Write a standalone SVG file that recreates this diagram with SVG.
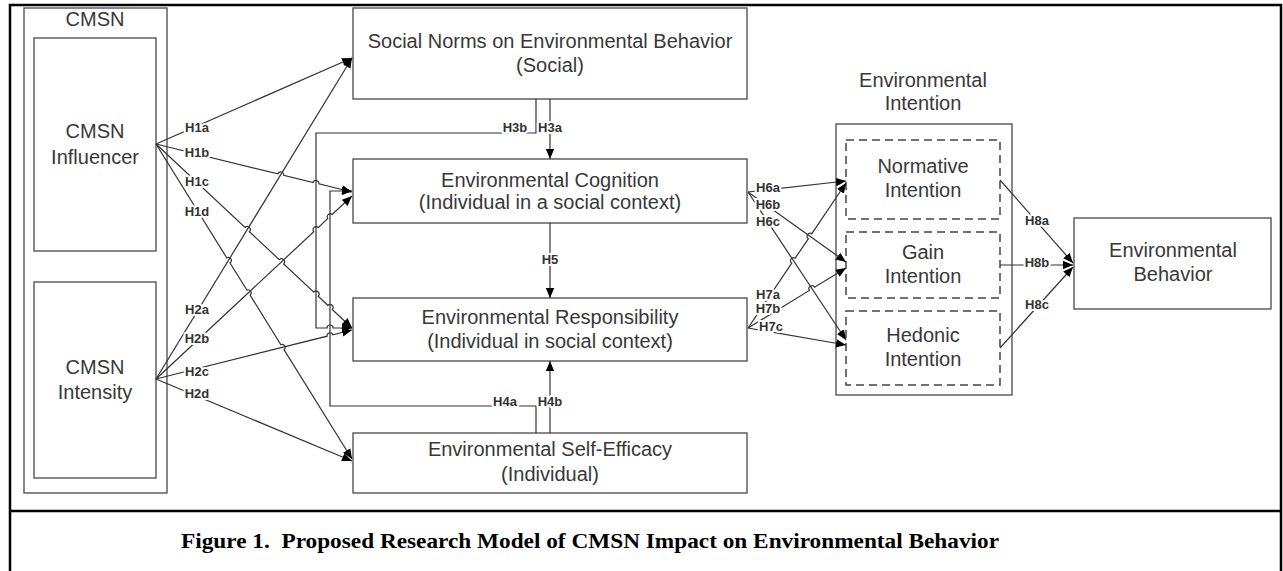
<svg xmlns="http://www.w3.org/2000/svg" width="1283" height="571" viewBox="0 0 1283 571">
  <style>
    .frame { fill: none; stroke: #000; stroke-width: 2.5; }
    .box { fill: #fff; stroke: #555; stroke-width: 1.4; }
    .grp { fill: none; stroke: #555; stroke-width: 1.4; }
    .dash { fill: none; stroke: #444; stroke-width: 1.5; stroke-dasharray: 8 5; }
    .t { font-family: "Liberation Sans", Arial, sans-serif; font-size: 20px; fill: #383838; text-anchor: middle; }
    .c { fill: none; stroke: #333; stroke-width: 1.2; }
    .a { marker-end: url(#arr); }
    .lbl { font-family: "Liberation Sans", Arial, sans-serif; font-size: 13px; font-weight: bold; fill: #333; text-anchor: middle; paint-order: stroke; stroke: #fff; stroke-width: 4px; stroke-linejoin: round; }
    .cap { font-family: "Liberation Serif", "Times New Roman", serif; font-size: 22px; font-weight: bold; fill: #000; text-anchor: middle; }
  </style>
  <defs>
    <marker id="arr" viewBox="0 0 10 10" refX="10" refY="5" markerWidth="10" markerHeight="10" markerUnits="userSpaceOnUse" orient="auto">
      <path d="M0,0.8 L10,5 L0,9.2 Z" fill="#000"/>
    </marker>
  </defs>

  <!-- outer figure frame -->
  <g id="frame">
    <rect x="0" y="0" width="1283" height="571" fill="#fff"/>
    <path class="frame" d="M10,571 V5 H1281 V571"/>
    <line class="frame" x1="10" y1="511" x2="1281" y2="511"/>
  </g>

  <!-- CMSN group -->
  <g id="cmsn">
    <rect class="grp" x="24" y="8" width="143" height="485"/>
    <text class="t" x="95" y="26">CMSN</text>
  </g>
  <g id="influencer">
    <rect class="box" x="34" y="38" width="122" height="213"/>
    <text class="t" x="95" y="138">CMSN</text>
    <text class="t" x="95" y="164">Influencer</text>
  </g>
  <g id="intensity">
    <rect class="box" x="34" y="282" width="122" height="196"/>
    <text class="t" x="95" y="374">CMSN</text>
    <text class="t" x="95" y="399">Intensity</text>
  </g>

  <!-- central constructs -->
  <g id="social-norms">
    <rect class="box" x="353" y="8" width="394" height="91"/>
    <text class="t" x="550" y="48">Social Norms on Environmental Behavior</text>
    <text class="t" x="550" y="72">(Social)</text>
  </g>
  <g id="cognition">
    <rect class="box" x="353" y="159" width="394" height="64"/>
    <text class="t" x="550" y="187">Environmental Cognition</text>
    <text class="t" x="550" y="209">(Individual in a social context)</text>
  </g>
  <g id="responsibility">
    <rect class="box" x="353" y="298" width="394" height="63"/>
    <text class="t" x="550" y="324">Environmental Responsibility</text>
    <text class="t" x="550" y="348">(Individual in social context)</text>
  </g>
  <g id="self-efficacy">
    <rect class="box" x="353" y="433" width="394" height="60"/>
    <text class="t" x="550" y="456">Environmental Self-Efficacy</text>
    <text class="t" x="550" y="481">(Individual)</text>
  </g>

  <!-- intention group -->
  <g id="intention">
    <rect class="grp" x="836" y="124" width="176" height="271"/>
    <text class="t" x="923" y="87">Environmental</text>
    <text class="t" x="923" y="110">Intention</text>
  </g>
  <g id="normative">
    <rect class="dash" x="846" y="140" width="154" height="79"/>
    <text class="t" x="923" y="173">Normative</text>
    <text class="t" x="923" y="197">Intention</text>
  </g>
  <g id="gain">
    <rect class="dash" x="846" y="232" width="154" height="66"/>
    <text class="t" x="923" y="259">Gain</text>
    <text class="t" x="923" y="283">Intention</text>
  </g>
  <g id="hedonic">
    <rect class="dash" x="846" y="311" width="154" height="74"/>
    <text class="t" x="923" y="342">Hedonic</text>
    <text class="t" x="923" y="366">Intention</text>
  </g>
  <g id="behavior">
    <rect class="box" x="1074" y="218" width="197" height="91"/>
    <text class="t" x="1173" y="257">Environmental</text>
    <text class="t" x="1173" y="281">Behavior</text>
  </g>

  <!-- connectors -->
  <g id="connectors">
    <!-- H1: CMSN Influencer -->
    <path class="c a" d="M156,144 L352,58"/>
    <path class="c a" d="M156,144 L277.9,173.9 A3,3 0 0 1 283.7,175.3 L313.1,182.5 A3,3 0 0 1 318.9,183.9 L352,192"/>
    <path class="c a" d="M156,144 L245.0,227.5 A3,3 0 0 1 249.4,231.7 L279.3,259.7 A3,3 0 0 1 283.7,263.9 L313.8,292.1 A3,3 0 0 1 318.2,296.3 L327.8,305.3 A3,3 0 0 1 332.2,309.5 L352,328"/>
    <path class="c a" d="M156,144 L226.8,257.9 A3,3 0 0 1 230.0,263.0 L246.9,290.1 A3,3 0 0 1 250.1,295.1 L280.9,344.8 A3,3 0 0 1 284.1,349.8 L352,459"/>
    <!-- H2: CMSN Intensity -->
    <path class="c a" d="M156,379 L352,58"/>
    <path class="c a" d="M156,379 L313.8,231.7 A3,3 0 0 1 318.2,227.6 L327.8,218.5 A3,3 0 0 1 332.2,214.5 L352,196"/>
    <path class="c a" d="M156,379 L327.1,336.2 A3,3 0 0 1 332.9,334.8 L352,330"/>
    <path class="c a" d="M156,379 L352,461"/>
    <!-- H3: social norms -->
    <path class="c a" d="M550,99 L550,159"/>
    <path class="c a" d="M536,99 V133 H316 V328 H327 A3,3 0 0 1 333,328 H352"/>
    <!-- H5 -->
    <path class="c a" d="M550,223 L550,298"/>
    <!-- H4: self-efficacy -->
    <path class="c a" d="M550,433 L550,361"/>
    <path class="c a" d="M536,433 V406 H330 V191 H352"/>
    <!-- H6: cognition to intentions -->
    <path class="c a" d="M748,192 L846,181"/>
    <path class="c a" d="M748,192 L846,262"/>
    <path class="c a" d="M748,192 L846,340"/>
    <!-- H7: responsibility to intentions -->
    <path class="c a" d="M748,328 L791.8,263.2 A3,3 0 0 1 795.2,258.2 L808.3,238.8 A3,3 0 0 1 811.7,233.8 L846,183"/>
    <path class="c a" d="M748,328 L809.4,290.4 A3,3 0 0 1 814.6,287.2 L846,268"/>
    <path class="c a" d="M748,328 L846,345"/>
    <!-- H8: intentions to behavior -->
    <path class="c a" d="M1000,180 L1073,263"/>
    <path class="c a" d="M1000,265 L1073,265"/>
    <path class="c a" d="M1000,348 L1073,267"/>

    <!-- hypothesis labels -->
    <text class="lbl" x="197" y="132">H1a</text>
    <text class="lbl" x="197" y="157">H1b</text>
    <text class="lbl" x="197" y="186">H1c</text>
    <text class="lbl" x="197" y="216">H1d</text>
    <text class="lbl" x="197" y="314">H2a</text>
    <text class="lbl" x="197" y="343">H2b</text>
    <text class="lbl" x="197" y="376">H2c</text>
    <text class="lbl" x="197" y="398">H2d</text>
    <text class="lbl" x="515" y="132">H3b</text>
    <text class="lbl" x="550" y="132">H3a</text>
    <text class="lbl" x="550" y="264">H5</text>
    <text class="lbl" x="505" y="406">H4a</text>
    <text class="lbl" x="550" y="406">H4b</text>
    <text class="lbl" x="768" y="192">H6a</text>
    <text class="lbl" x="768" y="209">H6b</text>
    <text class="lbl" x="768" y="226">H6c</text>
    <text class="lbl" x="768" y="299">H7a</text>
    <text class="lbl" x="768" y="313">H7b</text>
    <text class="lbl" x="771" y="331">H7c</text>
    <text class="lbl" x="1037" y="225">H8a</text>
    <text class="lbl" x="1037" y="267">H8b</text>
    <text class="lbl" x="1037" y="309">H8c</text>
  </g>

  <!-- caption -->
  <g id="caption">
    <text class="cap" x="590" y="548" textLength="818" lengthAdjust="spacingAndGlyphs" xml:space="preserve">Figure 1.  Proposed Research Model of CMSN Impact on Environmental Behavior</text>
  </g>
</svg>
